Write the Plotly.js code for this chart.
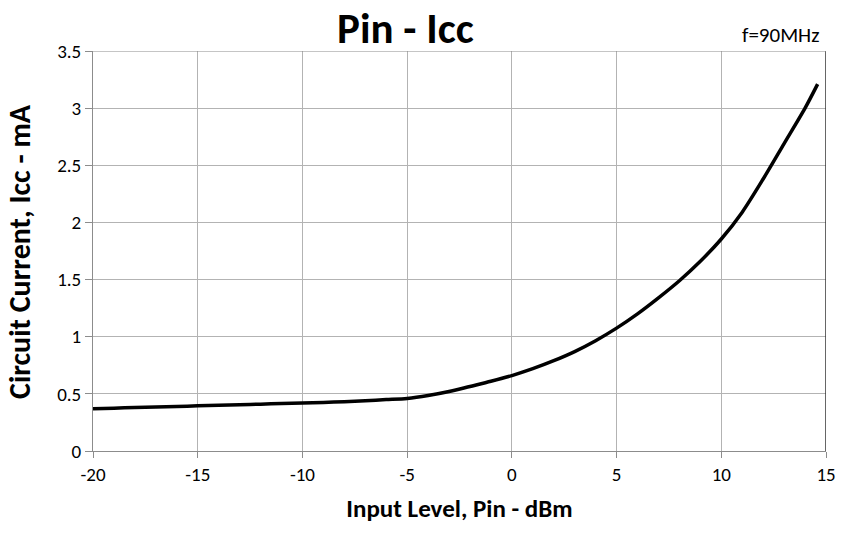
<!DOCTYPE html>
<html>
<head>
<meta charset="utf-8">
<script src="https://cdn.plot.ly/plotly-3.0.1.min.js"></script>
<style>html,body{margin:0;padding:0;background:#fff;}#chart{width:841px;height:535px;}</style>
</head>
<body>
<div id="chart"></div>
<script>
const pinDbm = [-20,-19,-18,-17,-16,-15,-14,-13,-12,-11,-10,-9,-8,-7,-6,-5,-4,-3,-2,-1,0,1,2,3,4,5,6,7,8,9,10,11,12,13,14,14.6];
const iccMa = [0.37,0.375,0.38,0.385,0.39,0.395,0.40,0.405,0.41,0.415,0.42,0.425,0.432,0.44,0.45,0.46,0.485,0.52,0.565,0.61,0.66,0.72,0.79,0.87,0.965,1.075,1.20,1.34,1.49,1.66,1.855,2.09,2.38,2.69,3.00,3.21];
const xTicks = [-20,-15,-10,-5,0,5,10,15];
const yTicks = [0,0.5,1,1.5,2,2.5,3,3.5];
const yTickText = ['0','0.5','1','1.5','2','2.5','3','3.5'];
const chartTitle = 'Pin - Icc';
const xTitle = 'Input Level, Pin - dBm';
const yTitle = 'Circuit Current, Icc - mA';
const noteText = 'f=90MHz';

const FONT = "Carlito, Calibri, 'Open Sans', sans-serif";

const trace = {
  x: pinDbm, y: iccMa, type: 'scatter', mode: 'lines',
  line: {color: '#000', width: 3.5, shape: 'spline', smoothing: 0.8},
  hoverinfo: 'skip'
};

const layout = {
  width: 841, height: 535,
  margin: {l: 93, r: 15, t: 51, b: 84},
  paper_bgcolor: '#fff', plot_bgcolor: '#fff',
  showlegend: false,
  font: {family: FONT, color: '#000'},
  title: {text: '<b>' + chartTitle + '</b>', font: {family: FONT, size: 43, color: '#000'}, x: 0.482, xanchor: 'center', y: 0.948, yanchor: 'middle'},
  xaxis: {
    range: [-20, 15], tickvals: xTicks, ticktext: xTicks.map(String),
    showgrid: true, gridcolor: '#b3b3b3', gridwidth: 1,
    showline: true, linecolor: '#8c8c8c', linewidth: 1,
    ticks: 'outside', ticklen: 6, tickcolor: '#8c8c8c',
    tickfont: {family: FONT, size: 19, color: '#000'},
    zeroline: false, fixedrange: true,
    title: {text: '<b>' + xTitle + '</b>', font: {family: FONT, size: 25, color: '#000'}, standoff: 14}
  },
  yaxis: {
    range: [0, 3.5], tickvals: yTicks, ticktext: yTickText,
    showgrid: true, gridcolor: '#b3b3b3', gridwidth: 1,
    showline: true, linecolor: '#8c8c8c', linewidth: 1,
    ticks: 'outside', ticklen: 7, tickcolor: '#8c8c8c',
    tickfont: {family: FONT, size: 19, color: '#000'},
    zeroline: false, fixedrange: true
  },
  shapes: [
    {type: 'line', xref: 'x', yref: 'paper', x0: 15, x1: 15, y0: 0, y1: 1, line: {color: '#333', width: 1.5}},
    {type: 'line', xref: 'paper', yref: 'y', x0: 0, x1: 1, y0: 3.5, y1: 3.5, line: {color: '#8c8c8c', width: 1}}
  ],
  annotations: [
    {text: noteText, xref: 'paper', yref: 'paper', x: 1, y: 1, xanchor: 'right', yanchor: 'bottom', xshift: -4, yshift: 1, showarrow: false, font: {family: FONT, size: 21, color: '#000'}},
    {text: '<b>' + yTitle + '</b>', xref: 'paper', yref: 'paper', x: -0.101, y: 0.5, xanchor: 'center', yanchor: 'middle', textangle: -90, showarrow: false, font: {family: FONT, size: 30, color: '#000'}}
  ]
};

Plotly.newPlot('chart', [trace], layout, {displayModeBar: false, staticPlot: true});
</script>
</body>
</html>
